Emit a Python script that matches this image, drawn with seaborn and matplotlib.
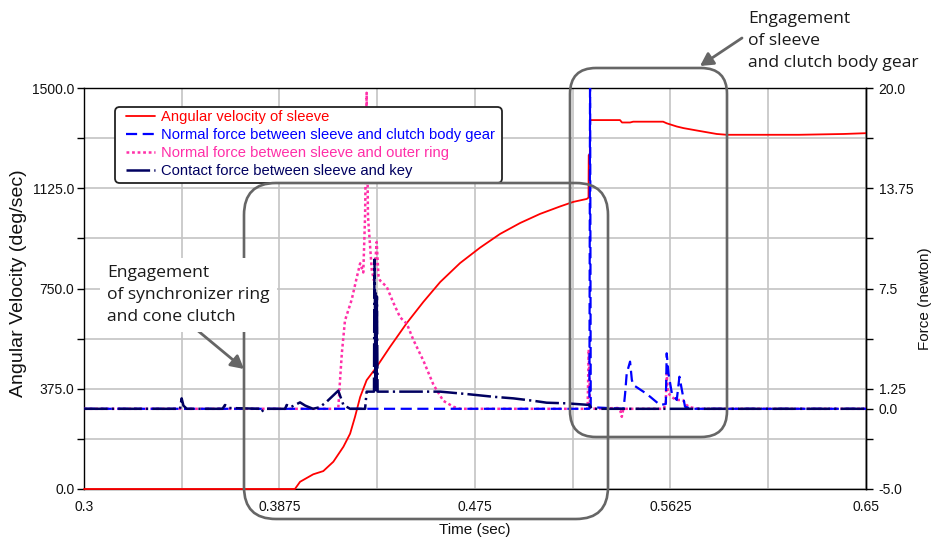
import numpy as np
import pandas as pd
import seaborn as sns
import matplotlib
matplotlib.use("Agg")
import matplotlib.pyplot as plt
from matplotlib.patches import FancyBboxPatch, FancyArrowPatch

# ---- data -----------------------------------------------------------------
# Angular velocity of sleeve (deg/sec)
vel_t = [0.3, 0.3944, 0.3967, 0.4026, 0.4071, 0.4116, 0.4161, 0.4191, 0.4213,
         0.4236, 0.4265, 0.4310, 0.4370, 0.4444, 0.4519, 0.4594, 0.4683,
         0.4773, 0.4862, 0.4952, 0.5041, 0.5131, 0.5190, 0.5250, 0.5258,
         0.5259, 0.5264, 0.5265, 0.5399, 0.5408, 0.5444, 0.5458, 0.5592,
         0.5608, 0.5653, 0.5683, 0.5743, 0.5832, 0.5877, 0.6200, 0.6400, 0.65]
vel_v = [0.0, 0.0, 27, 55, 67, 102, 158, 207, 270,
         344, 407, 457, 532, 620, 700, 774, 845,
         903, 954, 995, 1029, 1057, 1074, 1085, 1090,
         1249, 1252, 1380, 1380, 1371, 1371, 1374, 1374,
         1368, 1356, 1350, 1341, 1328, 1325, 1325, 1328, 1331]

# Normal force between sleeve and clutch body gear (newton)
gear_t = [0.3, 0.5262, 0.5265, 0.5268, 0.5415, 0.5422, 0.5429, 0.5444, 0.5452,
          0.5459, 0.5511, 0.5534, 0.5578, 0.5604, 0.5608, 0.5616, 0.5631,
          0.5653, 0.5665, 0.5676, 0.5690, 0.5720, 0.65]
gear_f = [0.0, 0.0, 21.5, 0.1, 0.0, 0.97, 2.2, 2.94, 1.8,
          1.48, 1.0, 0.75, 0.24, 0.3, 3.46, 2.2, 0.97,
          0.55, 2.0, 1.17, 0.13, 0.0, 0.0]

# Normal force between sleeve and outer ring (newton)
ring_t = [0.3, 0.4138, 0.4146, 0.4154, 0.4168, 0.4198, 0.4221, 0.4236, 0.4250,
          0.4258, 0.4265, 0.4271, 0.4288, 0.4298, 0.4310, 0.4318, 0.4325,
          0.4355, 0.4385, 0.4415, 0.4445, 0.4474, 0.4519, 0.4564, 0.4608,
          0.4653, 0.4683, 0.5254, 0.5259, 0.5265, 0.5272, 0.5390, 0.5400,
          0.5407, 0.5414, 0.5595, 0.5604, 0.5608, 0.5614, 0.5629, 0.5651,
          0.5680, 0.5696, 0.5712, 0.5750, 0.65]
ring_f = [0.0, 0.0, 1.8, 3.46, 5.5, 6.8, 8.2, 9.07, 8.5,
          12.0, 19.7, 12.0, 8.65, 8.0, 10.4, 8.3, 8.0,
          7.6, 6.6, 5.7, 5.3, 4.3, 3.0, 1.5, 0.5,
          0.13, 0.0, 0.0, 3.7, 0.2, 0.0, 0.05, -0.1,
          -0.5, 0.0, 0.0, 0.4, 2.2, 1.0, 0.75, 0.55,
          0.55, 0.24, 0.1, 0.0, 0.0]

# Contact force between sleeve and key (newton)
key_t = [0.3, 0.3430, 0.3437, 0.3445, 0.3460, 0.3620, 0.3631, 0.3648, 0.3788,
         0.3795, 0.3808, 0.3900, 0.3907, 0.3925, 0.3967, 0.3990, 0.4025,
         0.4055, 0.4086, 0.4138, 0.4161, 0.4191, 0.4258, 0.4265, 0.4298,
         0.4300, 0.4302, 0.4304, 0.4306, 0.4309, 0.4311, 0.4314, 0.4594,
         0.4713, 0.4832, 0.4922, 0.5011, 0.5071, 0.5161, 0.5262, 0.5272, 0.65]
key_f = [0.0, 0.0, 0.65, 0.2, 0.0, 0.0, 0.24, 0.05, 0.0,
         -0.18, 0.0, 0.0, 0.24, 0.1, 0.4, 0.2, 0.0,
         0.1, 0.44, 1.13, 0.24, 0.0, 0.0, 1.07, 1.07,
         9.3, 7.3, 1.1, 7.3, 1.1, 7.0, 1.07, 1.07,
         0.92, 0.75, 0.65, 0.5, 0.38, 0.34, 0.24, 0.0, 0.0]

x_ticks = [0.3, 0.3875, 0.475, 0.5625, 0.65]
x_tick_labels = ["0.3", "0.3875", "0.475", "0.5625", "0.65"]
vel_ticks = [0.0, 375.0, 750.0, 1125.0, 1500.0]
vel_tick_labels = ["0.0", "375.0", "750.0", "1125.0", "1500.0"]
force_ticks = [-5.0, 0.0, 1.25, 7.5, 13.75, 20.0]
force_tick_labels = ["-5.0", "0.0", "1.25", "7.5", "13.75", "20.0"]

labels = ["Angular velocity of sleeve",
          "Normal force between sleeve and clutch body gear",
          "Normal force between sleeve and outer ring",
          "Contact force between sleeve and key"]
colors = ["#ff0000", "#0000ff", "#ff2fa8", "#000060"]

# ---- style ----------------------------------------------------------------
sns.set_style("white")
plt.rcParams["font.family"] = ["Liberation Sans", "DejaVu Sans"]
plt.rcParams["lines.scale_dashes"] = False
plt.rcParams["axes.linewidth"] = 1.0

W, H = 932, 544
fig = plt.figure(figsize=(W / 100, H / 100), dpi=100)
L, R, T, B = 84, 866, 88, 489
ax = fig.add_axes([L / W, 1 - B / H, (R - L) / W, (B - T) / H])
ax2 = ax.twinx()

# ---- series ---------------------------------------------------------------
sns.lineplot(x=ring_t, y=ring_f, ax=ax2, color=colors[2], lw=1.8,
             linestyle=(0, (2.0, 2.0)), sort=False, estimator=None,
             legend=False, label=labels[2], zorder=2)
sns.lineplot(x=gear_t, y=gear_f, ax=ax2, color=colors[1], lw=1.6,
             linestyle=(0, (8.0, 4.0)), sort=False, estimator=None,
             legend=False, label=labels[1], zorder=3)
sns.lineplot(x=key_t, y=key_f, ax=ax2, color=colors[3], lw=1.8,
             linestyle=(0, (17.0, 3.0, 1.6, 3.0)), sort=False, estimator=None,
             legend=False, label=labels[3], zorder=4)
sns.lineplot(x=vel_t, y=vel_v, ax=ax, color=colors[0], lw=1.3,
             sort=False, estimator=None, legend=False, label=labels[0],
             zorder=5, clip_on=False)

# ---- axes -----------------------------------------------------------------
ax.set_xlim(x_ticks[0], x_ticks[-1])
ax.set_ylim(vel_ticks[0], vel_ticks[-1])
ax2.set_ylim(force_ticks[0], force_ticks[-1])

ax.set_xticks(x_ticks)
ax.set_xticklabels(x_tick_labels)
ax.set_xticks(np.arange(0.3, 0.651, 0.04375), minor=True)
ax.set_yticks(vel_ticks)
ax.set_yticklabels(vel_tick_labels)
ax.set_yticks(np.arange(0, 1501, 187.5), minor=True)
ax2.set_yticks(force_ticks)
ax2.set_yticklabels(force_tick_labels)
ax2.set_yticks(np.arange(-5.0, 20.01, 3.125), minor=True)

ax.grid(True, which="both", color="#c4c4c4", lw=1.2)
ax2.grid(False)
ax.set_axisbelow(True)

for a in (ax, ax2):
    a.tick_params(which="both", direction="out", length=5, width=1,
                  color="black", labelsize=10, labelcolor="#111111")
ax.tick_params(axis="x", pad=3)
ax.tick_params(axis="y", pad=2)
ax2.tick_params(axis="y", pad=4)
for s in ax.spines.values():
    s.set_color("black")
for s in ("top", "bottom", "left"):
    ax2.spines[s].set_visible(False)
ax2.spines["right"].set_color("black")

ax.set_xlabel("Time (sec)", fontsize=11, color="#111111")
ax.xaxis.set_label_coords(0.5, -0.085)
ax.set_ylabel("Angular Velocity (deg/sec)", fontsize=14, color="#111111")
ax.yaxis.set_label_coords(-0.073, 0.514)
ax2.set_ylabel("Force (newton)", fontsize=11, color="#111111")
ax2.yaxis.set_label_coords(1.066, 0.475)

# ---- legend ---------------------------------------------------------------
h1, l1 = ax.get_legend_handles_labels()
h2, l2 = ax2.get_legend_handles_labels()
hmap = dict(zip(l1 + l2, h1 + h2))
ax_w, ax_h = R - L, B - T
lx0, ly0, lx1, ly1 = 115, 107, 502, 183
frame = FancyBboxPatch(((lx0 - L) / ax_w, (B - ly1) / ax_h),
                       (lx1 - lx0) / ax_w, (ly1 - ly0) / ax_h,
                       boxstyle="round,pad=0,rounding_size=0.006",
                       mutation_aspect=ax_w / ax_h,
                       transform=ax2.transAxes, fc="white", ec="#222222",
                       lw=1.3, zorder=8)
ax2.add_patch(frame)
leg = ax2.legend([hmap[k] for k in labels], labels, loc="upper left",
                 bbox_to_anchor=((lx0 + 11 - L) / ax_w, (B - ly0 - 3) / ax_h),
                 frameon=False, fontsize=10.6, handlelength=2.0,
                 handletextpad=0.35, labelspacing=0.27, borderpad=0.0,
                 borderaxespad=0.0, labelcolor="linecolor")
leg.set_zorder(9)

# ---- annotations ----------------------------------------------------------
def fx(x):
    return x / W


def fy(y):
    return 1 - y / H


box_color = "#666666"
for (x0, y0, x1, y1, r) in [(244, 183, 608, 519, 32), (570, 68, 727, 437, 26)]:
    p = FancyBboxPatch((fx(x0), fy(y1)), (x1 - x0) / W, (y1 - y0) / H,
                       boxstyle=f"round,pad=0,rounding_size={r / W}",
                       mutation_aspect=W / H, transform=fig.transFigure,
                       fill=False, ec=box_color, lw=1.9)
    fig.patches.append(p)

note_font = ["Open Sans", "DejaVu Sans"]
fig.text(fx(107), fy(265), "Engagement\nof synchronizer ring\nand cone clutch",
         ha="left", va="top", fontsize=12.6, family=note_font, color="#1a1a1a",
         linespacing=1.5, zorder=5,
         bbox=dict(fc="white", ec="none", pad=5))
fig.text(fx(748), fy(11), "Engagement\nof sleeve\nand clutch body gear",
         ha="left", va="top", fontsize=12.6, family=note_font, color="#1a1a1a",
         linespacing=1.5, zorder=5)

for (a, b) in [((197, 330), (244, 369)), ((742, 38), (700, 66))]:
    arr = FancyArrowPatch((fx(a[0]), fy(a[1])), (fx(b[0]), fy(b[1])),
                          transform=fig.transFigure,
                          arrowstyle="-|>,head_length=0.55,head_width=0.3",
                          mutation_scale=14, color=box_color, lw=2.0,
                          shrinkA=0, shrinkB=0)
    fig.patches.append(arr)

fig.savefig("out.png", dpi=100, facecolor="white")
